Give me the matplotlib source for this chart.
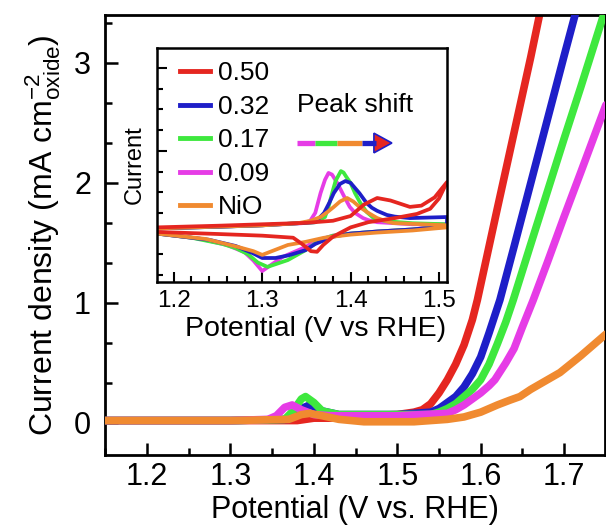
import numpy as np
import matplotlib
matplotlib.use("Agg")
import matplotlib.pyplot as plt
from matplotlib.ticker import MultipleLocator, AutoMinorLocator, NullFormatter
from matplotlib.patches import Polygon

plt.rcParams['font.family'] = ['Liberation Sans', 'DejaVu Sans']
plt.rcParams['mathtext.fontset'] = 'custom'
plt.rcParams['mathtext.rm'] = 'Liberation Sans'
plt.rcParams['mathtext.it'] = 'Liberation Sans:italic'

# sample labels and colours
labels = ['0.50', '0.32', '0.17', '0.09', 'NiO']
colors = ['#e52620', '#1e1ec8', '#3ee83e', '#e63ce6', '#f08a30']

# main LSV curves, x = potential (V vs RHE), y = current density
red_x = [1.15, 1.30, 1.38, 1.40, 1.42, 1.45, 1.50, 1.52, 1.53, 1.54, 1.55, 1.56, 1.57, 1.58, 1.59, 1.596, 1.62, 1.64, 1.66, 1.672]
red_y = [0.02, 0.02, 0.02, 0.04, 0.04, 0.06, 0.07, 0.09, 0.11, 0.16, 0.25, 0.36, 0.49, 0.65, 0.86, 1.025, 1.79, 2.42, 3.05, 3.45]
blue_x = [1.15, 1.30, 1.37, 1.385, 1.395, 1.41, 1.43, 1.50, 1.54, 1.55, 1.56, 1.57, 1.58, 1.59, 1.60, 1.61, 1.623, 1.64, 1.66, 1.68, 1.70, 1.715]
blue_y = [0.02, 0.02, 0.03, 0.12, 0.15, 0.10, 0.07, 0.07, 0.09, 0.12, 0.17, 0.22, 0.30, 0.41, 0.55, 0.75, 1.025, 1.47, 2.00, 2.53, 3.06, 3.45]
green_x = [1.15, 1.30, 1.365, 1.375, 1.385, 1.39, 1.40, 1.41, 1.43, 1.50, 1.54, 1.55, 1.56, 1.57, 1.58, 1.59, 1.60, 1.61, 1.62, 1.63, 1.639, 1.66, 1.68, 1.70, 1.72, 1.75]
green_y = [0.02, 0.02, 0.03, 0.10, 0.20, 0.22, 0.17, 0.10, 0.07, 0.07, 0.07, 0.09, 0.12, 0.16, 0.22, 0.28, 0.36, 0.49, 0.66, 0.84, 1.025, 1.49, 1.93, 2.37, 2.80, 3.46]
magenta_x = [1.15, 1.30, 1.345, 1.355, 1.365, 1.374, 1.385, 1.40, 1.42, 1.50, 1.56, 1.57, 1.58, 1.59, 1.60, 1.61, 1.617, 1.63, 1.64, 1.65, 1.663, 1.68, 1.70, 1.72, 1.75]
magenta_y = [0.02, 0.02, 0.03, 0.06, 0.13, 0.15, 0.11, 0.07, 0.06, 0.06, 0.08, 0.11, 0.15, 0.20, 0.25, 0.31, 0.36, 0.50, 0.62, 0.80, 1.025, 1.34, 1.72, 2.09, 2.65]
orange_x = [1.15, 1.30, 1.37, 1.385, 1.395, 1.41, 1.43, 1.46, 1.52, 1.56, 1.57, 1.58, 1.59, 1.60, 1.61, 1.62, 1.635, 1.647, 1.66, 1.67, 1.695, 1.72, 1.75]
orange_y = [0.02, 0.02, 0.03, 0.07, 0.08, 0.06, 0.03, 0.01, 0.01, 0.03, 0.04, 0.05, 0.07, 0.09, 0.12, 0.15, 0.19, 0.22, 0.28, 0.32, 0.42, 0.56, 0.74]

# inset CV loops (arbitrary current units), anodic sweep then cathodic sweep
red_an_x = [1.181, 1.25, 1.30, 1.35, 1.38, 1.40, 1.415, 1.43, 1.445, 1.467, 1.48, 1.495, 1.509]
red_an_y = [2.30, 2.38, 2.45, 2.52, 2.62, 2.85, 3.40, 3.72, 3.60, 3.29, 3.35, 3.75, 4.49]
red_ca_x = [1.509, 1.50, 1.49, 1.475, 1.45, 1.42, 1.40, 1.38, 1.369, 1.362, 1.355, 1.345, 1.335, 1.30, 1.25, 1.181]
red_ca_y = [4.49, 3.70, 3.20, 2.95, 2.75, 2.55, 2.30, 1.85, 1.45, 1.12, 1.15, 1.50, 1.80, 1.90, 1.98, 2.08]

blue_an_x = [1.181, 1.25, 1.30, 1.36, 1.37, 1.376, 1.381, 1.388, 1.394, 1.40, 1.405, 1.41, 1.418, 1.424, 1.43, 1.441, 1.45, 1.467, 1.509]
blue_an_y = [2.25, 2.33, 2.40, 2.55, 3.00, 3.50, 3.96, 4.40, 4.54, 4.45, 4.20, 3.95, 3.48, 3.25, 3.10, 2.90, 2.82, 2.75, 2.80]
blue_ca_x = [1.509, 1.47, 1.43, 1.40, 1.38, 1.36, 1.349, 1.33, 1.315, 1.30, 1.289, 1.27, 1.24, 1.181]
blue_ca_y = [2.35, 2.20, 2.10, 2.00, 1.85, 1.50, 1.20, 0.95, 0.82, 0.82, 1.06, 1.40, 1.70, 2.00]

green_an_x = [1.181, 1.25, 1.30, 1.36, 1.371, 1.375, 1.38, 1.383, 1.389, 1.392, 1.395, 1.40, 1.405, 1.411, 1.418, 1.426, 1.44, 1.47, 1.509]
green_an_y = [2.25, 2.33, 2.40, 2.55, 2.80, 3.30, 4.10, 4.55, 5.02, 4.95, 4.75, 4.44, 3.95, 3.48, 3.05, 2.75, 2.60, 2.50, 2.45]
green_ca_x = [1.509, 1.47, 1.43, 1.40, 1.38, 1.366, 1.349, 1.329, 1.306, 1.295, 1.284, 1.27, 1.255, 1.22, 1.181]
green_ca_y = [2.35, 2.20, 2.10, 2.00, 1.90, 1.70, 1.20, 0.72, 0.39, 0.60, 1.00, 1.30, 1.50, 1.80, 2.00]

magenta_an_x = [1.181, 1.25, 1.30, 1.345, 1.354, 1.36, 1.366, 1.371, 1.375, 1.379, 1.385, 1.392, 1.399, 1.405, 1.414, 1.42, 1.43, 1.47, 1.509]
magenta_an_y = [2.25, 2.33, 2.40, 2.50, 2.60, 3.00, 3.96, 4.60, 4.93, 4.85, 4.44, 3.85, 3.29, 3.00, 2.75, 2.65, 2.55, 2.45, 2.45]
magenta_ca_x = [1.509, 1.47, 1.43, 1.40, 1.38, 1.36, 1.349, 1.323, 1.30, 1.29, 1.28, 1.26, 1.23, 1.181]
magenta_ca_y = [2.40, 2.20, 2.10, 2.00, 1.90, 1.65, 1.35, 0.87, 0.19, 0.70, 1.10, 1.45, 1.75, 2.00]

orange_an_x = [1.181, 1.30, 1.34, 1.355, 1.366, 1.374, 1.381, 1.388, 1.396, 1.403, 1.41, 1.42, 1.43, 1.44, 1.448, 1.509]
orange_an_y = [2.25, 2.40, 2.50, 2.62, 2.80, 3.05, 3.29, 3.55, 3.72, 3.55, 3.29, 3.00, 2.75, 2.60, 2.51, 2.40]
orange_ca_x = [1.509, 1.47, 1.43, 1.40, 1.37, 1.349, 1.329, 1.30, 1.29, 1.273, 1.236, 1.181]
orange_ca_y = [2.30, 2.15, 2.05, 1.95, 1.80, 1.60, 1.45, 0.97, 1.15, 1.35, 1.74, 2.00]

main_x = [red_x, blue_x, green_x, magenta_x, orange_x]
main_y = [red_y, blue_y, green_y, magenta_y, orange_y]
cv_x = [red_an_x + red_ca_x, blue_an_x + blue_ca_x, green_an_x + green_ca_x,
        magenta_an_x + magenta_ca_x, orange_an_x + orange_ca_x]
cv_y = [red_an_y + red_ca_y, blue_an_y + blue_ca_y, green_an_y + green_ca_y,
        magenta_an_y + magenta_ca_y, orange_an_y + orange_ca_y]

fig = plt.figure(figsize=(6.06, 5.27), dpi=100)
ax = fig.add_axes([105/606, 72/527, 500/606, 440/527])

draw_order = [0, 1, 3, 2, 4]
for i in draw_order:
    ax.plot(main_x[i], main_y[i], color=colors[i], lw=5.5, solid_capstyle='round',
            solid_joinstyle='round', zorder=2 + i)

ax.set_xlim(1.1496, 1.749)
ax.set_ylim(-0.267, 3.4)
ax.xaxis.set_major_locator(MultipleLocator(0.1))
ax.xaxis.set_minor_locator(MultipleLocator(0.05))
ax.yaxis.set_major_locator(MultipleLocator(1))
ax.yaxis.set_minor_locator(AutoMinorLocator(3))
ax.tick_params(which='both', direction='in', top=False, right=False, width=1.8, labelsize=22)
ax.tick_params(which='major', length=9, pad=5)
ax.tick_params(which='minor', length=5)
ax.tick_params(axis='y', which='major', pad=10)
for s in ax.spines.values():
    s.set_linewidth(2)
ax.set_xlabel('Potential (V vs. RHE)', fontsize=22, labelpad=2)
ax.set_ylabel('Current density (mA cm$^{-2}_{\\mathrm{oxide}}$)', fontsize=23, labelpad=8)

# inset
axins = fig.add_axes([157/606, 245/527, 290/606, 234/527])
for i in [3, 2, 1, 4, 0]:
    axins.plot(cv_x[i], cv_y[i], color=colors[i], lw=2.7, solid_joinstyle='round', zorder=2)
axins.set_xlim(1.181, 1.509)
axins.set_ylim(-0.34, 10.97)
axins.xaxis.set_major_locator(MultipleLocator(0.1))
axins.xaxis.set_minor_locator(MultipleLocator(0.02))
axins.yaxis.set_major_locator(MultipleLocator(4, offset=2))
axins.yaxis.set_minor_locator(MultipleLocator(1))
axins.yaxis.set_major_formatter(NullFormatter())
axins.tick_params(which='both', direction='in', top=False, right=False, width=1.5, labelsize=17.5)
axins.tick_params(which='major', length=7, pad=6)
axins.tick_params(which='minor', length=4)
for s in axins.spines.values():
    s.set_linewidth(1.8)
axins.set_xlabel('Potential (V vs RHE)', fontsize=20.5)
axins.xaxis.set_label_coords(0.548, -0.145)
axins.set_ylabel('Current', fontsize=17, labelpad=2)

handles = [plt.Line2D([], [], color=c, lw=3.5) for c in colors]
axins.legend(handles, labels, loc='upper left', bbox_to_anchor=(0.06, 0.965), frameon=False,
             fontsize=19, handlelength=1.15, handletextpad=0.3, labelspacing=0.36,
             borderpad=0.2, borderaxespad=0)

# peak shift arrow
axins.text(0.483, 0.756, 'Peak shift', transform=axins.transAxes, fontsize=19,
           ha='left', va='center')
seg_x = [0.483, 0.545, 0.621, 0.707, 0.755]
seg_c = [colors[3], colors[2], colors[4], colors[1]]
ya = 0.594
for k in range(4):
    axins.plot([seg_x[k], seg_x[k + 1]], [ya, ya], color=seg_c[k], lw=3.8,
               solid_capstyle='butt', transform=axins.transAxes)
head = Polygon([[0.748, ya + 0.042], [0.748, ya - 0.042], [0.81, ya]], closed=True,
               facecolor=colors[0], edgecolor=colors[1], lw=1.2, transform=axins.transAxes)
axins.add_patch(head)

fig.savefig('out.png', dpi=100)
